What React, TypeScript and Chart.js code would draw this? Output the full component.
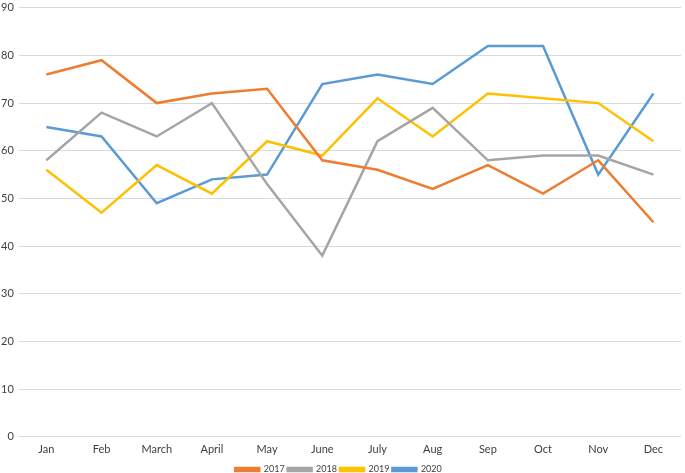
import React, { useEffect, useRef } from "react";
import { Chart, registerables } from "chart.js";

Chart.register(...registerables);

const months = ["Jan", "Feb", "March", "April", "May", "June", "July", "Aug", "Sep", "Oct", "Nov", "Dec"];
const s2017 = [76, 79, 70, 72, 73, 58, 56, 52, 57, 51, 58, 45];
const s2018 = [58, 68, 63, 70, 53, 38, 62, 69, 58, 59, 59, 55];
const s2019 = [56, 47, 57, 51, 62, 59, 71, 63, 72, 71, 70, 62];
const s2020 = [65, 63, 49, 54, 55, 74, 76, 74, 82, 82, 55, 72];

export default function App() {
  const ref = useRef<HTMLCanvasElement>(null);
  useEffect(() => {
    document.body.style.margin = "0";
    const ctx = ref.current!;
    const mk = (label: string, data: number[], color: string) => ({
      label,
      data,
      borderColor: color,
      backgroundColor: color,
      borderWidth: 2.5,
      pointRadius: 0,
      tension: 0,
    });
    const chart = new Chart(ctx, {
      type: "line",
      data: {
        labels: months,
        datasets: [
          mk("2017", s2017, "#ED7D31"),
          mk("2018", s2018, "#A5A5A5"),
          mk("2019", s2019, "#FFC000"),
          mk("2020", s2020, "#5B9BD5"),
        ],
      },
      options: {
        animation: false,
        responsive: false,
        layout: { padding: { top: 0, right: 4, left: -4, bottom: -11 } },
        plugins: {
          legend: {
            position: "bottom",
            labels: {
              boxWidth: 24,
              boxHeight: 3,
              padding: 3,
              color: "#404040",
              font: { family: "Lato", size: 9 },
            },
          },
          tooltip: { enabled: false },
        },
        scales: {
          x: {
            offset: true,
            grid: { display: false, drawTicks: false },
            border: { display: false },
            ticks: { color: "#404040", font: { family: "Lato", size: 11 }, padding: 6 },
          },
          y: {
            min: 0,
            max: 90,
            ticks: { stepSize: 10, color: "#404040", font: { family: "Lato", size: 11, lineHeight: 0.5 }, padding: 5 },
            grid: { color: "#d9d9d9", lineWidth: 1, drawTicks: false },
            border: { display: false },
          },
        },
      },
    });
    return () => chart.destroy();
  }, []);
  return <canvas ref={ref} width={685} height={473} style={{ display: "block" }} />;
}
